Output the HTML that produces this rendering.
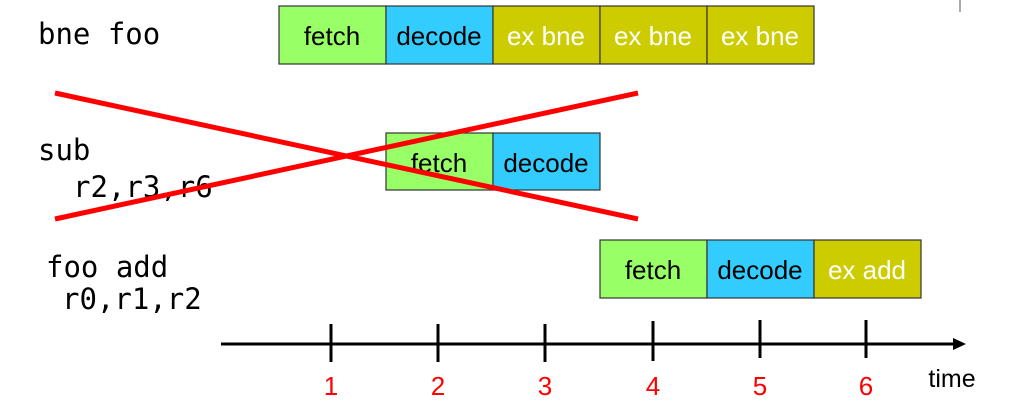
<!DOCTYPE html>
<html><head><style>body{margin:0;background:#fff}</style></head><body>
<svg width="1029" height="409" xmlns="http://www.w3.org/2000/svg">
<g font-family="Liberation Sans, sans-serif" font-size="26" text-anchor="middle" stroke="#333" stroke-width="1.2">
<rect x="279" y="6" width="107" height="58" fill="#99ff66"/>
<rect x="386" y="6" width="107" height="58" fill="#33ccff"/>
<rect x="493" y="6" width="107" height="58" fill="#cccc00"/>
<rect x="600" y="6" width="107" height="58" fill="#cccc00"/>
<rect x="707" y="6" width="107" height="58" fill="#cccc00"/>
<rect x="386" y="133" width="107" height="57" fill="#99ff66"/>
<rect x="493" y="133" width="107" height="57" fill="#33ccff"/>
<rect x="600" y="240" width="107" height="58" fill="#99ff66"/>
<rect x="707" y="240" width="107" height="58" fill="#33ccff"/>
<rect x="814" y="240" width="107" height="58" fill="#cccc00"/>
<g stroke="none">
<text x="332" y="45" fill="#000">fetch</text>
<text x="439" y="45" fill="#000">decode</text>
<text x="546" y="45" fill="#fff">ex bne</text>
<text x="653" y="45" fill="#fff">ex bne</text>
<text x="760" y="45" fill="#fff">ex bne</text>
<text x="439" y="172" fill="#000">fetch</text>
<text x="546" y="172" fill="#000">decode</text>
<text x="653" y="279" fill="#000">fetch</text>
<text x="760" y="279" fill="#000">decode</text>
<text x="867" y="279" fill="#fff">ex add</text>
</g></g>
<g font-family="DejaVu Sans Mono, Liberation Mono, monospace" font-size="29" fill="#000">
<text x="38" y="44">bne foo</text>
<text x="38" y="160">sub</text>
<text x="73" y="197">r2,r3,r6</text>
<text x="46" y="277">foo add</text>
<text x="62" y="309">r0,r1,r2</text>
</g>
<g stroke="#ff0000" stroke-width="5">
<line x1="55" y1="93" x2="638" y2="219"/>
<line x1="55" y1="219" x2="638" y2="93"/>
</g>
<line x1="960" y1="0" x2="960" y2="12" stroke="#555" stroke-width="1"/>
<g stroke="#000" stroke-width="3">
<line x1="221" y1="344" x2="958" y2="344"/>
<line x1="331" y1="324" x2="331" y2="362"/>
<line x1="438" y1="324" x2="438" y2="362"/>
<line x1="545" y1="324" x2="545" y2="362"/>
<line x1="653" y1="321" x2="653" y2="361"/>
<line x1="760" y1="320" x2="760" y2="358"/>
<line x1="866" y1="320" x2="866" y2="358"/>
</g>
<polygon points="966,344 953,338 953,350" fill="#000"/>
<g font-family="Liberation Sans, sans-serif" font-size="26" fill="#ff0000" text-anchor="middle">
<text x="331" y="395">1</text><text x="438" y="395">2</text><text x="545" y="395">3</text>
<text x="653" y="395">4</text><text x="760" y="395">5</text><text x="866" y="395">6</text>
</g>
<text x="952" y="387" font-family="Liberation Sans, sans-serif" font-size="25" text-anchor="middle" fill="#000">time</text>
</svg>
</body></html>
